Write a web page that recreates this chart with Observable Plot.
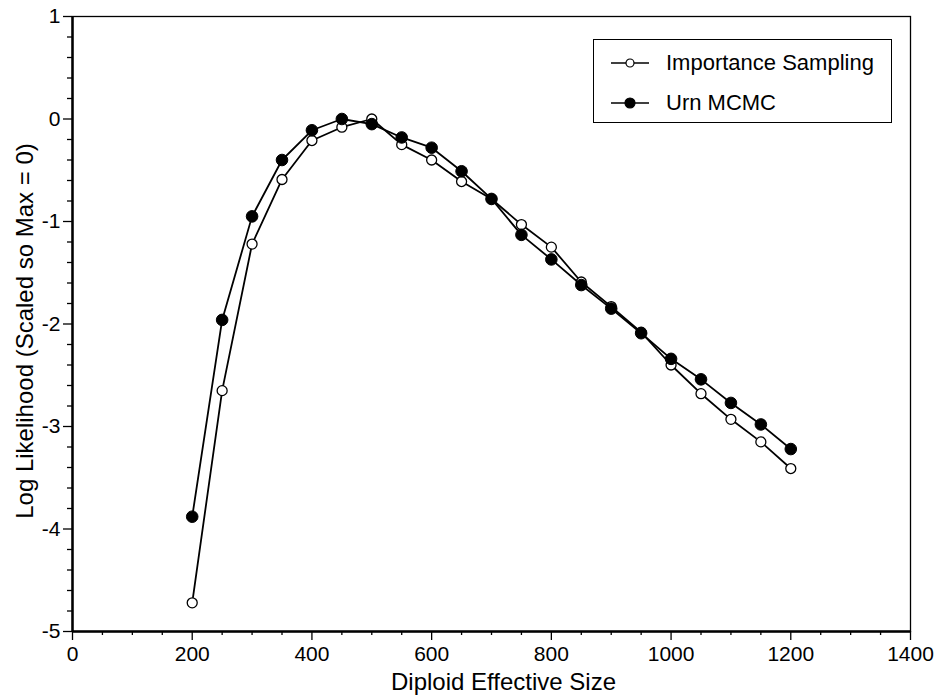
<!DOCTYPE html>
<html><head><meta charset="utf-8">
<script src="https://cdn.jsdelivr.net/npm/d3@7"></script>
<script src="https://cdn.jsdelivr.net/npm/@observablehq/plot@0.6"></script>
<style>
body{margin:0;background:#fff;font-family:"Liberation Sans",Arial,sans-serif}
#wrap{position:relative;width:940px;height:700px}
#legend{position:absolute;left:593px;top:39px;width:299px;height:84px;border:1.5px solid #000;box-sizing:border-box;background:#fff;font-size:22px;color:#000}
#legend .row{position:absolute;left:0;height:30px;display:flex;align-items:center}
#legend svg{margin-left:17px;margin-right:17px}
</style></head><body><div id="wrap"></div>
<script>
const sizes = [200,250,300,350,400,450,500,550,600,650,700,750,800,850,900,950,1000,1050,1100,1150,1200];
const importanceSampling = [-4.72,-2.65,-1.22,-0.59,-0.21,-0.08,0.0,-0.25,-0.40,-0.61,-0.78,-1.03,-1.25,-1.59,-1.83,-2.08,-2.40,-2.68,-2.93,-3.15,-3.41];
const urnMCMC = [-3.88,-1.96,-0.95,-0.40,-0.11,0.0,-0.05,-0.18,-0.28,-0.51,-0.78,-1.13,-1.37,-1.62,-1.85,-2.09,-2.34,-2.54,-2.77,-2.98,-3.22];
const seriesNames = ["Importance Sampling","Urn MCMC"];
const xTicks = [0,200,400,600,800,1000,1200,1400];
const yTicks = [-5,-4,-3,-2,-1,0,1];
const xLabel = "Diploid Effective Size";
const yLabel = "Log Likelihood (Scaled so Max = 0)";

const xMinor = d3.range(0,1401,50).filter(v => !xTicks.includes(v));
const yMinor = d3.range(-25,6).map(i => i/5).filter(v => !Number.isInteger(v));

const isRows = sizes.map((s,i) => ({size:s, ll:importanceSampling[i], series:seriesNames[0]}));
const urnRows = sizes.map((s,i) => ({size:s, ll:urnMCMC[i], series:seriesNames[1]}));

const chart = Plot.plot({
  width: 940, height: 700,
  marginLeft: 72, marginRight: 30, marginTop: 16, marginBottom: 69,
  style: {fontFamily: '"Liberation Sans", Arial, sans-serif', fontSize: "21px", color: "#000", background: "#fff"},
  x: {domain: [0,1400]},
  y: {domain: [-5,1]},
  marks: [
    Plot.frame({stroke: "#000", strokeWidth: 1.3}),
    Plot.axisX({ticks: xMinor, tickSize: 4, tickFormat: () => "", label: null, strokeWidth: 1.3}),
    Plot.axisX({ticks: xTicks, tickSize: 9, tickPadding: 6, tickFormat: d => String(d), label: null, fontSize: 21, strokeWidth: 1.3}),
    Plot.axisY({ticks: yMinor, tickSize: 5, tickFormat: () => "", label: null, strokeWidth: 1.3}),
    Plot.axisY({ticks: yTicks, tickSize: 9, tickPadding: 3, tickFormat: d => String(d), label: null, fontSize: 21, strokeWidth: 1.3}),
    Plot.ruleX([0], {stroke: "#000", strokeWidth: 2.5}),
    Plot.ruleY([-5], {stroke: "#000", strokeWidth: 2.5}),
    Plot.line(isRows, {x: "size", y: "ll", stroke: "#000", strokeWidth: 1.8}),
    Plot.line(urnRows, {x: "size", y: "ll", stroke: "#000", strokeWidth: 1.8}),
    Plot.dot(isRows, {x: "size", y: "ll", r: 5, stroke: "#000", strokeWidth: 1.3, fill: "#fff"}),
    Plot.dot(urnRows, {x: "size", y: "ll", r: 5.8, stroke: "#000", strokeWidth: 1, fill: "#000"}),
    Plot.text([xLabel], {frameAnchor: "bottom", dx: 12, dy: 51, lineAnchor: "middle", textAnchor: "middle", fontSize: 24, text: d => d}),
    Plot.text([yLabel], {frameAnchor: "left", dx: -47, dy: 7, rotate: -90, lineAnchor: "middle", textAnchor: "middle", fontSize: 24, text: d => d})
  ]
});
const wrap = document.getElementById("wrap");
wrap.appendChild(chart);

const legend = document.createElement("div");
legend.id = "legend";
const rowTops = [8, 48];
seriesNames.forEach((name, i) => {
  const row = document.createElement("div");
  row.className = "row";
  row.style.top = rowTops[i] + "px";
  const svg = d3.create("svg").attr("width", 38).attr("height", 14);
  svg.append("line").attr("x1",0).attr("x2",38).attr("y1",7).attr("y2",7).attr("stroke","#000").attr("stroke-width",1.6);
  svg.append("circle").attr("cx",19).attr("cy",7).attr("r", i === 0 ? 4 : 5)
    .attr("fill", i === 0 ? "#fff" : "#000").attr("stroke","#000").attr("stroke-width",1.2);
  row.appendChild(svg.node());
  const span = document.createElement("span");
  span.textContent = name;
  row.appendChild(span);
  legend.appendChild(row);
});
wrap.appendChild(legend);
</script>
</body></html>
